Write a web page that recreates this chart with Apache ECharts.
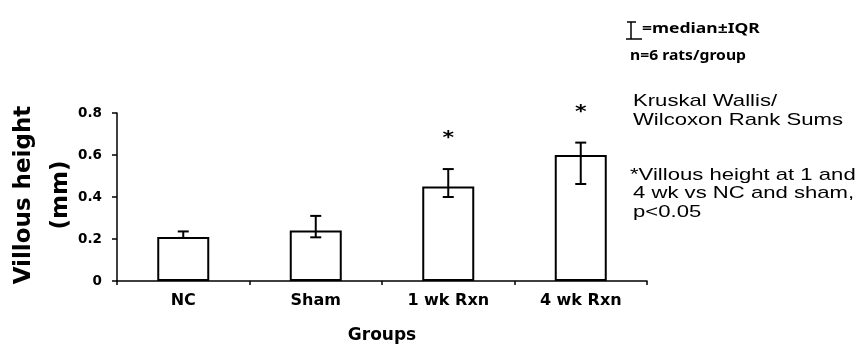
<!DOCTYPE html>
<html>
<head>
<meta charset="utf-8">
<script src="https://cdn.jsdelivr.net/npm/echarts@6/dist/echarts.min.js"></script>
<style>
  html, body { margin: 0; padding: 0; background: #fff; }
  #chart { width: 860px; height: 346px; }
</style>
</head>
<body>
<div id="chart"></div>
<script>
// Villous height by group: median with interquartile range
var groups = ['NC', 'Sham', '1 wk Rxn', '4 wk Rxn'];
var medianHeight = [0.21, 0.24, 0.45, 0.60];
var iqrLow = [0.205, 0.208, 0.40, 0.462];
var iqrHigh = [0.236, 0.31, 0.533, 0.659];
var significant = [false, false, true, true];
var yTicks = { min: 0, max: 0.8, step: 0.2 };

var BOLD = 'DejaVu Sans';

var errorData = groups.map(function (g, i) { return [i, iqrLow[i], iqrHigh[i]]; });
var starData = groups.map(function (g, i) { return significant[i] ? [i, iqrHigh[i]] : null; })
  .filter(function (d) { return d; });

var chart = echarts.init(document.getElementById('chart'), null, { renderer: 'canvas' });

function line(x1, y1, x2, y2, w) {
  return { type: 'line', shape: { x1: x1, y1: y1, x2: x2, y2: y2 },
           style: { stroke: '#000', lineWidth: w || 2 } };
}

function noteText(x, y, text, font, sx) {
  return { type: 'text', x: x, y: y, scaleX: sx || 1,
           style: { text: text, font: font, fill: '#000', align: 'left', verticalAlign: 'middle' } };
}

var option = {
  backgroundColor: '#fff',
  animation: false,
  grid: { left: 117, top: 113, width: 530, height: 168, containLabel: false },
  xAxis: {
    type: 'category',
    data: groups,
    boundaryGap: true,
    name: 'Groups',
    nameLocation: 'middle',
    nameGap: 46,
    nameTextStyle: { fontFamily: BOLD, fontWeight: 'bold', fontSize: 17, color: '#000' },
    axisLine: { lineStyle: { color: '#000', width: 1.5 } },
    axisTick: { show: true, inside: false, length: 4, lineStyle: { color: '#000', width: 1.5 } },
    axisLabel: { fontFamily: BOLD, fontWeight: 'bold', fontSize: 16, color: '#000', margin: 12, interval: 0 },
    splitLine: { show: false }
  },
  yAxis: {
    type: 'value',
    min: yTicks.min,
    max: yTicks.max,
    interval: yTicks.step,
    axisLine: { show: true, lineStyle: { color: '#000', width: 1.5 } },
    axisTick: { show: true, inside: false, length: 5, lineStyle: { color: '#000', width: 1.5 } },
    axisLabel: { fontFamily: BOLD, fontWeight: 'bold', fontSize: 13.5, color: '#000', margin: 15 },
    splitLine: { show: false }
  },
  series: [
    {
      type: 'bar',
      data: medianHeight,
      barWidth: 52,
      itemStyle: { color: '#fff', borderColor: '#000', borderWidth: 2 },
      z: 2
    },
    {
      type: 'custom',
      data: errorData,
      z: 3,
      renderItem: function (params, api) {
        var i = api.value(0);
        var lo = api.coord([i, api.value(1)]);
        var hi = api.coord([i, api.value(2)]);
        var cap = 5.5;
        return { type: 'group', children: [
          line(hi[0], hi[1], lo[0], lo[1], 2),
          line(hi[0] - cap, hi[1], hi[0] + cap, hi[1], 2),
          line(lo[0] - cap, lo[1], lo[0] + cap, lo[1], 2)
        ] };
      }
    },
    {
      type: 'custom',
      data: starData,
      z: 3,
      renderItem: function (params, api) {
        var p = api.coord([api.value(0), api.value(1)]);
        return { type: 'text', x: p[0], y: p[1] - 30, scaleX: 1.3,
                 style: { text: '*', font: 'bold 17px "DejaVu Sans"', fill: '#000',
                          align: 'center', verticalAlign: 'middle' } };
      }
    }
  ],
  graphic: [
    // y-axis title
    { type: 'text', x: 43, y: 195, rotation: Math.PI / 2,
      style: { text: 'Villous height\n(mm)', font: 'bold 23px "DejaVu Sans"', lineHeight: 37,
               fill: '#000', align: 'center', verticalAlign: 'middle' } },
    // median ± IQR key glyph
    line(631, 22, 631, 39, 1.5),
    line(627, 22, 636, 22, 1.5),
    line(626, 39, 642, 39, 1.5),
    noteText(642, 29, '=median\u00b1IQR', 'bold 14px "Noto Sans"', 1.25),
    noteText(630, 56, 'n=6 rats/group', 'bold 14px "Noto Sans"', 1.12),
    // statistics notes
    noteText(633, 101.5, 'Kruskal Wallis/', '17px "Liberation Sans"', 1.3),
    noteText(633, 120.2, 'Wilcoxon Rank Sums', '17px "Liberation Sans"', 1.3),
    noteText(630, 175, '*Villous height at 1 and', '17px "Liberation Sans"', 1.3),
    noteText(633, 193.7, '4 wk vs NC and sham,', '17px "Liberation Sans"', 1.3),
    noteText(633, 212.4, 'p<0.05', '17px "Liberation Sans"', 1.3)
  ]
};

chart.setOption(option);
</script>
</body>
</html>
